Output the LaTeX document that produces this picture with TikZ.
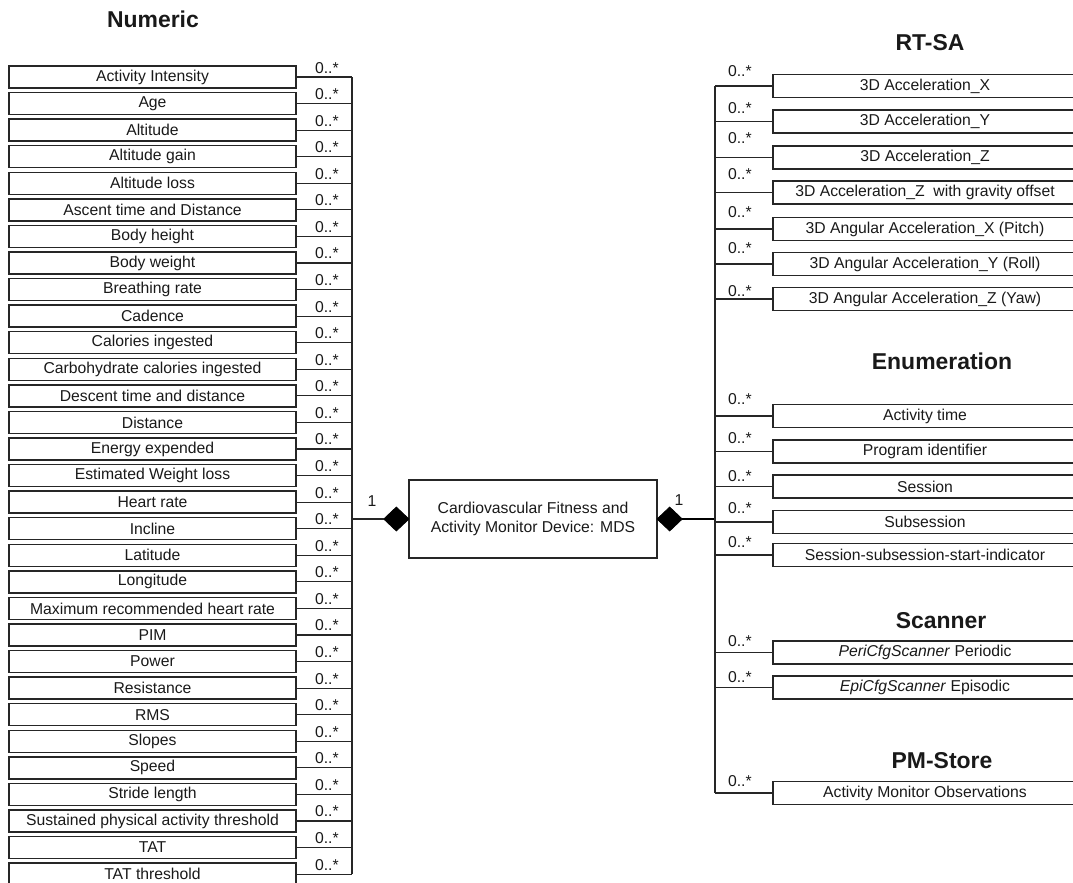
\documentclass[tikz,border=0pt]{standalone}
\usepackage{fontspec}
\setmainfont{Liberation Sans}
\usetikzlibrary{shapes.geometric}
\begin{document}
\begin{tikzpicture}[x=0.75pt,y=-0.75pt,
  every node/.style={inner sep=0pt, outer sep=0pt, text=black!90},
  txt/.style={font=\fontsize{11.8}{14.5}\selectfont},
  attr/.style={txt, draw=black!85, line width=1pt, minimum width=215.25pt, minimum height=16.5pt},
  rattr/.style={attr, minimum width=228pt, minimum height=17.25pt},
  mult/.style={txt, anchor=base west},
  wire/.style={draw=black!85, line width=0.9pt},
  boldwire/.style={draw=black, line width=1.9pt},
  grouptitle/.style={font=\bfseries\fontsize{17.2}{20}\selectfont, anchor=base},
  agg/.style={diamond, fill=black, draw=black, line width=0.5pt, minimum width=19pt, minimum height=18pt}]
\useasboundingbox (0,0) rectangle (1073,882);

% bus lines of the two aggregations
\coordinate (busL) at (352,0);
\coordinate (busR) at (715,0);

% group titles
\node[grouptitle] (tNum) at (153,27) {Numeric};
\node[grouptitle] (tRT)  at (930,50) {RT-SA};
\node[grouptitle] (tEn)  at (942,369) {Enumeration};
\node[grouptitle] (tSc)  at (941,628) {Scanner};
\node[grouptitle] (tPM)  at (942,768) {PM-Store};

% central class with its two aggregation diamonds
\node[txt, draw=black!85, line width=1pt, minimum width=186pt, minimum height=58.5pt, align=center]
  (mds) at (533,519) {Cardiovascular Fitness and\\Activity Monitor Device: MDS};
\node[agg, anchor=east] (dL) at (mds.west) {};
\node[agg, anchor=west] (dR) at (mds.east) {};
\node[txt, anchor=base] (oneL) at (372,506) {1};
\node[txt, anchor=base] (oneR) at (679,505) {1};
\draw[wire] (dL.west) -- (dL.west -| busL);
\draw[boldwire] (dR.east) -- (dR.east -| busR);

% numeric attributes
\foreach \t [count=\i from 0] in {Activity Intensity, Age, Altitude, Altitude gain, Altitude loss,
  Ascent time and Distance, Body height, Body weight, Breathing rate, Cadence, Calories ingested,
  Carbohydrate calories ingested, Descent time and distance, Distance, Energy expended,
  Estimated Weight loss, Heart rate, Incline, Latitude, Longitude, Maximum recommended heart rate,
  PIM, Power, Resistance, RMS, Slopes, Speed, Stride length, Sustained physical activity threshold,
  TAT, TAT threshold} {
  \node[attr] (L\i) at (152.5,77+26.57*\i) {\t};
  \draw[wire] (L\i.east) -- (L\i.east -| busL);
  \node[mult] (mL\i) at (315,73+26.57*\i) {0..*};
}
\draw[wire] (L0.east -| busL) -- (L30.east -| busL);

% right-hand attributes: text / centre / multiplicity baseline
\foreach \t/\cy/\my [count=\i from 0] in {
  {3D Acceleration\_X}/86/76,
  {3D Acceleration\_Y}/121.5/113,
  {3D Acceleration\_Z}/157.5/143,
  {3D Acceleration\_Z\ \ with gravity offset}/192.5/179,
  {3D Angular Acceleration\_X (Pitch)}/229/217,
  {3D Angular Acceleration\_Y (Roll)}/264/253,
  {3D Angular Acceleration\_Z (Yaw)}/299/296,
  {Activity time}/416/404,
  {Program identifier}/451.5/443,
  {Session}/486.5/481,
  {Subsession}/522/513,
  {Session-subsession-start-indicator}/555/547,
  {\textit{PeriCfgScanner} Periodic}/652.5/646,
  {\textit{EpiCfgScanner} Episodic}/687.5/682,
  {Activity Monitor Observations}/793/786} {
  \node[rattr] (R\i) at (925,\cy) {\t};
  \draw[wire] (R\i.west) -- (R\i.west -| busR);
  \node[mult] (mR\i) at (728,\my) {0..*};
}
\draw[wire] (R0.west -| busR) -- (R14.west -| busR);
\end{tikzpicture}
\end{document}
